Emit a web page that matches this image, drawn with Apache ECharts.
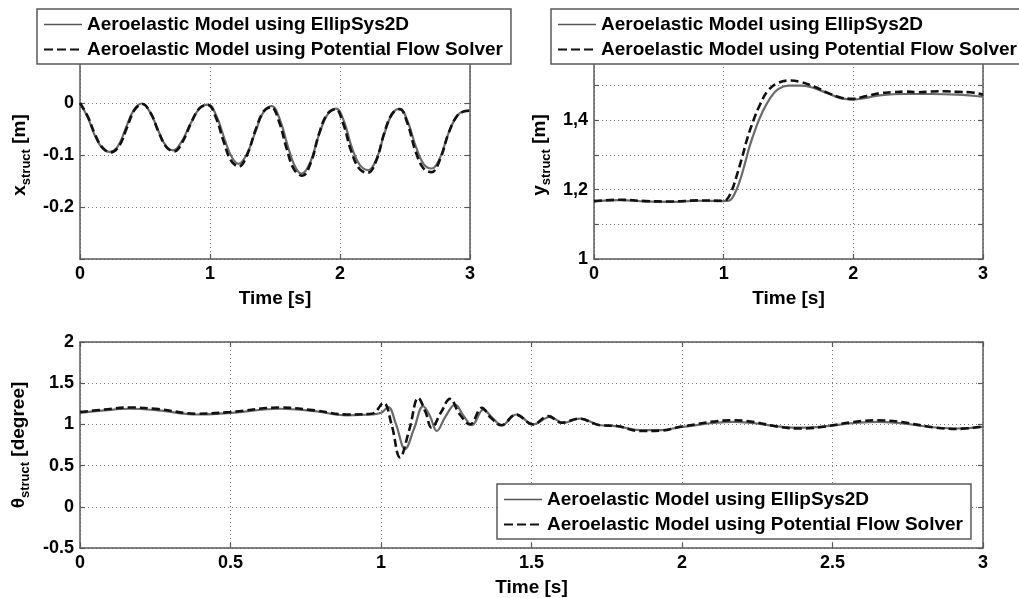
<!DOCTYPE html>
<html>
<head>
<meta charset="utf-8">
<script src="https://cdn.jsdelivr.net/npm/echarts@6/dist/echarts.min.js"></script>
<style>
  html, body { margin: 0; padding: 0; background: #fff; }
  #main { width: 1019px; height: 598px; }
</style>
</head>
<body>
<div id="main"></div>
<script>
var NAME_E = 'Aeroelastic Model using EllipSys2D';
var NAME_P = 'Aeroelastic Model using Potential Flow Solver';

// x_struct [m] - [time, value]
var xEllip = [[0,0],[0.06,-0.028],[0.115,-0.063],[0.17,-0.086],[0.23,-0.094],[0.29,-0.084],[0.35,-0.05],[0.41,-0.015],
  [0.474,-0.001],[0.54,-0.018],[0.6,-0.052],[0.66,-0.082],[0.718,-0.091],[0.78,-0.075],[0.85,-0.04],[0.92,-0.01],
  [0.985,-0.003],[1.05,-0.025],[1.11,-0.068],[1.165,-0.103],[1.218,-0.117],[1.28,-0.1],[1.35,-0.055],[1.41,-0.018],
  [1.474,-0.006],[1.535,-0.03],[1.595,-0.08],[1.65,-0.12],[1.705,-0.136],[1.77,-0.115],[1.84,-0.06],[1.905,-0.022],
  [1.97,-0.011],[2.03,-0.035],[2.09,-0.085],[2.155,-0.12],[2.218,-0.129],[2.28,-0.108],[2.34,-0.06],[2.4,-0.022],
  [2.46,-0.011],[2.52,-0.035],[2.585,-0.085],[2.645,-0.118],[2.705,-0.126],[2.77,-0.105],[2.835,-0.058],[2.9,-0.025],
  [2.96,-0.015],[3.0,-0.014]];
var xPot = [[0,0],[0.06,-0.026],[0.115,-0.06],[0.17,-0.085],[0.235,-0.095],[0.3,-0.083],[0.36,-0.048],[0.42,-0.013],
  [0.48,-0.002],[0.545,-0.02],[0.605,-0.056],[0.665,-0.085],[0.725,-0.093],[0.79,-0.074],[0.855,-0.038],[0.92,-0.01],
  [0.985,-0.004],[1.045,-0.028],[1.105,-0.074],[1.16,-0.11],[1.222,-0.122],[1.285,-0.1],[1.35,-0.052],[1.41,-0.017],
  [1.47,-0.008],[1.53,-0.035],[1.59,-0.088],[1.645,-0.127],[1.71,-0.14],[1.775,-0.115],[1.84,-0.058],[1.9,-0.022],
  [1.965,-0.012],[2.025,-0.04],[2.085,-0.092],[2.15,-0.127],[2.215,-0.134],[2.28,-0.11],[2.34,-0.058],[2.4,-0.021],
  [2.46,-0.012],[2.52,-0.04],[2.58,-0.092],[2.64,-0.125],[2.705,-0.133],[2.77,-0.108],[2.835,-0.058],[2.9,-0.025],
  [2.96,-0.016],[3.0,-0.015]];

// y_struct [m]
var yEllip = [[0,1.166],[0.2,1.17],[0.4,1.166],[0.6,1.165],[0.8,1.168],[1.0,1.167],[1.04,1.168],[1.08,1.185],
  [1.12,1.22],[1.16,1.27],[1.2,1.325],[1.25,1.38],[1.3,1.425],[1.36,1.465],[1.42,1.49],[1.5,1.5],[1.6,1.5],
  [1.7,1.493],[1.8,1.478],[1.9,1.464],[2.0,1.46],[2.1,1.465],[2.2,1.472],[2.4,1.476],[2.6,1.476],[2.8,1.474],[3.0,1.468]];
var yPot = [[0,1.167],[0.2,1.171],[0.4,1.167],[0.6,1.166],[0.8,1.169],[1.0,1.168],[1.02,1.17],[1.06,1.195],
  [1.1,1.24],[1.14,1.29],[1.18,1.345],[1.23,1.4],[1.28,1.445],[1.34,1.485],[1.42,1.508],[1.52,1.515],[1.6,1.51],
  [1.7,1.497],[1.8,1.48],[1.9,1.466],[2.0,1.462],[2.1,1.47],[2.2,1.478],[2.3,1.481],[2.4,1.483],[2.5,1.481],
  [2.6,1.483],[2.7,1.484],[2.8,1.482],[2.9,1.481],[3.0,1.474]];

// theta_struct [degree]
var tEllip = [[0,1.14],[0.08,1.17],[0.166,1.19],[0.26,1.17],[0.388,1.12],[0.5,1.14],[0.664,1.19],[0.78,1.16],
  [0.886,1.11],[0.97,1.12],[1.0,1.14],[1.024,1.21],[1.05,1.0],[1.08,0.70],[1.11,0.95],[1.14,1.22],[1.163,1.1],
  [1.185,0.92],[1.215,1.1],[1.246,1.24],[1.275,1.1],[1.302,0.99],[1.34,1.18],[1.37,1.08],[1.401,0.99],[1.45,1.12],
  [1.506,1.0],[1.561,1.09],[1.606,1.02],[1.661,1.07],[1.728,0.99],[1.783,0.98],[1.86,0.93],[1.93,0.93],[2.0,0.97],
  [2.17,1.03],[2.39,0.96],[2.647,1.03],[2.913,0.95],[3.0,0.97]];
var tPot = [[0,1.15],[0.08,1.18],[0.166,1.205],[0.26,1.185],[0.388,1.13],[0.5,1.15],[0.664,1.205],[0.78,1.17],
  [0.886,1.12],[0.97,1.13],[1.008,1.26],[1.035,1.0],[1.063,0.60],[1.095,0.95],[1.124,1.32],[1.148,1.15],[1.168,0.96],
  [1.2,1.15],[1.229,1.31],[1.262,1.12],[1.296,1.0],[1.335,1.2],[1.365,1.08],[1.4,0.99],[1.448,1.12],[1.505,1.0],
  [1.556,1.1],[1.6,1.02],[1.656,1.07],[1.728,0.99],[1.783,0.98],[1.86,0.92],[1.93,0.925],[2.0,0.975],[2.17,1.05],
  [2.39,0.95],[2.647,1.05],[2.913,0.945],[3.0,0.975]];

var FONT = '"Liberation Sans", Arial, sans-serif';
var BOX = '#5a5a5a';

function mainAxis(type, gridIndex, opt) {
  var a = {
    type: 'value', gridIndex: gridIndex,
    min: opt.min, max: opt.max, interval: opt.interval,
    axisLine: { show: true, onZero: false, lineStyle: { color: BOX, width: 1.5 } },
    axisTick: { show: true, inside: true, length: 5, lineStyle: { color: BOX, width: 1.2 } },
    axisLabel: { color: '#000', fontSize: 18, fontWeight: 'bold', fontFamily: FONT, margin: opt.margin || 6,
      formatter: opt.formatter },
    splitLine: { show: true, lineStyle: { color: '#777', width: 1, type: [1, 3] } },
    name: opt.name, nameLocation: 'middle', nameGap: opt.nameGap,
    nameTextStyle: opt.nameTextStyle || { color: '#000', fontSize: 19, fontWeight: 'bold', fontFamily: FONT }
  };
  if (type === 'y') a.nameRotate = 90;
  return a;
}
function mirrorAxis(gridIndex, pos, opt) {
  return {
    type: 'value', gridIndex: gridIndex, position: pos,
    min: opt.min, max: opt.max, interval: opt.interval,
    axisLine: { show: true, onZero: false, lineStyle: { color: BOX, width: 1.5 } },
    axisTick: { show: true, inside: true, length: 5, lineStyle: { color: BOX, width: 1.2 } },
    axisLabel: { show: false }, splitLine: { show: false }
  };
}
function yName(sym, unit) {
  return {
    name: '{m|' + sym + '}{s|struct}{m| ' + unit + '}',
    nameTextStyle: {
      rich: {
        m: { color: '#000', fontSize: 19, fontWeight: 'bold', fontFamily: FONT, lineHeight: 26 },
        s: { color: '#000', fontSize: 13, fontWeight: 'bold', fontFamily: FONT, lineHeight: 26, verticalAlign: 'bottom' }
      }
    }
  };
}

var tx1 = { min: 0, max: 3, interval: 1, name: 'Time [s]', nameGap: 30 };
var tx3 = { min: 0, max: 3, interval: 0.5, name: 'Time [s]', nameGap: 30 };
var yx = { min: -0.3, max: 0.1, interval: 0.1, nameGap: 47,
  formatter: function (v) { var r = Math.round(v * 10); if (r > 0 || r < -2) return ''; return r === 0 ? '0' : String(r / 10); } };
var yy = { min: 1, max: 1.6, interval: 0.1, nameGap: 41,
  formatter: function (v) { var r = Math.round(v * 10); if (r % 2 !== 0 || r > 14) return ''; return r === 10 ? '1' : String(r / 10).replace('.', ','); } };
var yt = { min: -0.5, max: 2, interval: 0.5, nameGap: 47 };

var nx = yName('x', '[m]'), ny = yName('y', '[m]'), nt = yName('θ', '[degree]');
yx.name = nx.name; yx.nameTextStyle = nx.nameTextStyle;
yy.name = ny.name; yy.nameTextStyle = ny.nameTextStyle;
yt.name = nt.name; yt.nameTextStyle = nt.nameTextStyle;

function solid(data, i) {
  return { name: NAME_E, type: 'line', data: data, xAxisIndex: i * 2, yAxisIndex: i * 2, symbol: 'none', smooth: 0.4,
    lineStyle: { color: '#6a6a6a', width: 2.2 }, itemStyle: { color: '#6a6a6a' }, z: 3 };
}
function dashed(data, i) {
  return { name: NAME_P, type: 'line', data: data, xAxisIndex: i * 2, yAxisIndex: i * 2, symbol: 'none', smooth: 0.4,
    lineStyle: { color: '#111', width: 2.6, type: [8, 4] }, itemStyle: { color: '#111' }, z: 4 };
}
function legend(left, top, padRight) {
  return {
    left: left, top: top, orient: 'vertical',
    data: [
      { name: NAME_E, lineStyle: { color: '#555', width: 1.5, type: 'solid' } },
      { name: NAME_P, lineStyle: { color: '#111', width: 2, type: [9, 4] } }
    ],
    itemWidth: 38, itemHeight: 14, itemGap: 4, padding: [5, padRight, 4, 6],
    itemStyle: { opacity: 0, borderWidth: 0 },
    backgroundColor: '#fff', borderColor: BOX, borderWidth: 1.5, borderRadius: 0,
    selectedMode: false,
    textStyle: { color: '#000', fontSize: 19, fontWeight: 'bold', fontFamily: FONT, lineHeight: 21 }
  };
}

var chart = echarts.init(document.getElementById('main'));
chart.setOption({
  backgroundColor: '#fff',
  animation: false,
  grid: [
    { left: 80, top: 51, width: 390, height: 208 },
    { left: 594, top: 51, width: 389, height: 208 },
    { left: 80, top: 342, width: 903, height: 208 }
  ],
  legend: [legend(37, 9, 8), legend(551, 9, 30), legend(497, 484, 8)],
  xAxis: [mainAxis('x', 0, tx1), mirrorAxis(0, 'top', tx1),
          mainAxis('x', 1, tx1), mirrorAxis(1, 'top', tx1),
          mainAxis('x', 2, tx3), mirrorAxis(2, 'top', tx3)],
  yAxis: [mainAxis('y', 0, yx), mirrorAxis(0, 'right', yx),
          mainAxis('y', 1, yy), mirrorAxis(1, 'right', yy),
          mainAxis('y', 2, yt), mirrorAxis(2, 'right', yt)],
  series: [solid(xEllip, 0), dashed(xPot, 0), solid(yEllip, 1), dashed(yPot, 1), solid(tEllip, 2), dashed(tPot, 2)]
});
</script>
</body>
</html>
